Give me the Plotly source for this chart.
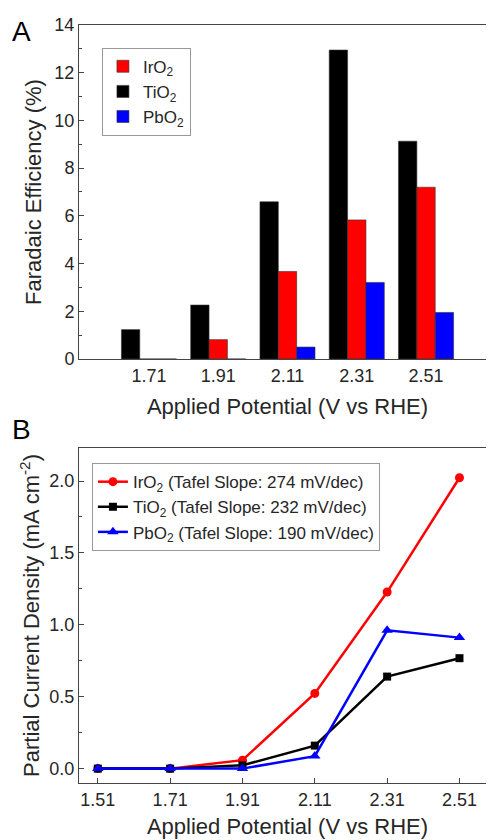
import plotly.graph_objects as go

# ---- Panel A data (Faradaic efficiency, %) ----
potentials_a = ["1.71", "1.91", "2.11", "2.31", "2.51"]
fe_tio2 = [1.23, 2.26, 6.59, 12.95, 9.13]
fe_iro2 = [0.0, 0.81, 3.67, 5.83, 7.20]
fe_pbo2 = [0.0, 0.0, 0.50, 3.21, 1.95]

# ---- Panel B data (partial current density, mA cm^-2) ----
potentials_b = [1.51, 1.71, 1.91, 2.11, 2.31, 2.51]
potential_labels_b = ["1.51", "1.71", "1.91", "2.11", "2.31", "2.51"]
j_iro2 = [0.0, 0.0, 0.059, 0.523, 1.228, 2.023]
j_tio2 = [0.0, 0.0, 0.023, 0.160, 0.640, 0.768]
j_pbo2 = [0.0, 0.0, 0.0, 0.087, 0.962, 0.911]

names_a = ["IrO<sub>2</sub>", "TiO<sub>2</sub>", "PbO<sub>2</sub>"]
names_b = ["IrO<sub>2</sub> (Tafel Slope: 274 mV/dec)",
           "TiO<sub>2</sub> (Tafel Slope: 232 mV/dec)",
           "PbO<sub>2</sub> (Tafel Slope: 190 mV/dec)"]

RED, BLACK, BLUE = "#ff0000", "#000000", "#0000ff"
FONT = "Liberation Sans, Arial, sans-serif"
TXT = "#262626"
AX = "#444444"

fig = go.Figure()

bar_line = dict(color="#333", width=0.6)
# bars: order in group TiO2, IrO2, PbO2 ; legend order IrO2, TiO2, PbO2
fig.add_trace(go.Bar(x=potentials_a, y=fe_tio2, name=names_a[1], marker=dict(color=BLACK, line=bar_line),
                     xaxis="x", yaxis="y", legend="legend", legendrank=2))
fig.add_trace(go.Bar(x=potentials_a, y=fe_iro2, name=names_a[0], marker=dict(color=RED, line=bar_line),
                     xaxis="x", yaxis="y", legend="legend", legendrank=1))
fig.add_trace(go.Bar(x=potentials_a, y=fe_pbo2, name=names_a[2], marker=dict(color=BLUE, line=bar_line),
                     xaxis="x", yaxis="y", legend="legend", legendrank=3))

fig.add_trace(go.Scatter(x=potentials_b, y=j_iro2, name=names_b[0], mode="lines+markers",
                         line=dict(color=RED, width=2.5), marker=dict(symbol="circle", size=9, color=RED),
                         xaxis="x2", yaxis="y2", legend="legend2"))
fig.add_trace(go.Scatter(x=potentials_b, y=j_tio2, name=names_b[1], mode="lines+markers",
                         line=dict(color=BLACK, width=2.5), marker=dict(symbol="square", size=8, color=BLACK),
                         xaxis="x2", yaxis="y2", legend="legend2"))
fig.add_trace(go.Scatter(x=potentials_b, y=j_pbo2, name=names_b[2], mode="lines+markers",
                         line=dict(color=BLUE, width=2.5), marker=dict(symbol="triangle-up", size=10, color=BLUE),
                         xaxis="x2", yaxis="y2", legend="legend2"))

tickfont = dict(family=FONT, size=18, color=TXT)
titlefont = dict(family=FONT, size=22, color=TXT)

dom_a = [0.5594, 1.0]
dom_b = [0.0, 0.4420]
xr_a = [-1.01, 5.01]
xr_b = [1.458, 2.611]

fig.update_layout(
    width=494, height=840,
    margin=dict(l=71, r=6, t=17, b=65),
    paper_bgcolor="white", plot_bgcolor="white",
    font=dict(family=FONT, color=TXT),
    barmode="group", bargap=0.205, bargroupgap=0,
    xaxis=dict(domain=[0, 1], anchor="y", type="category", range=xr_a, automargin=False,
               showline=True, linecolor=AX, linewidth=1, mirror=True, ticks="",
               showgrid=False, zeroline=False, tickfont=tickfont,
               title=dict(text="Applied Potential (V vs RHE)", font=titlefont, standoff=14)),
    xaxis3=dict(overlaying="x", anchor="y", side="top", range=xr_a, automargin=False,
                tickvals=[-0.5, 0.5, 1.5, 2.5, 3.5, 4.5], ticks="inside", ticklen=6,
                tickcolor=AX, showticklabels=False, showgrid=False, zeroline=False, showline=False,
                minor=dict(tickvals=[0, 1, 2, 3, 4], ticks="inside", ticklen=3, tickcolor=AX, showgrid=False)),
    yaxis=dict(domain=dom_a, anchor="x", range=[0, 14], tickvals=[0, 2, 4, 6, 8, 10, 12, 14], automargin=False,
               showline=True, linecolor=AX, linewidth=1, mirror="ticks", ticks="inside", ticklen=5,
               tickcolor=AX, showgrid=False, zeroline=False, tickfont=tickfont,
               minor=dict(dtick=1, ticks="inside", ticklen=3, tickcolor=AX, showgrid=False),
               title=dict(text="Faradaic Efficiency (%)", font=titlefont, standoff=6)),
    xaxis2=dict(domain=[0, 1], anchor="y2", range=xr_b, automargin=False,
                tickvals=potentials_b, ticktext=potential_labels_b,
                showline=True, linecolor=AX, linewidth=1, mirror=True, ticks="inside", ticklen=5,
                tickcolor=AX, showgrid=False, zeroline=False, tickfont=tickfont,
                title=dict(text="Applied Potential (V vs RHE)", font=titlefont, standoff=10)),
    xaxis4=dict(overlaying="x2", anchor="y2", side="top", range=xr_b, automargin=False,
                tickvals=[1.61, 1.81, 2.01, 2.21, 2.41, 2.61], ticks="inside", ticklen=6,
                tickcolor=AX, showticklabels=False, showgrid=False, zeroline=False, showline=False,
                minor=dict(tickvals=potentials_b, ticks="inside", ticklen=3,
                           tickcolor=AX, showgrid=False)),
    yaxis2=dict(domain=dom_b, anchor="x2", range=[-0.1, 2.23], tickvals=[0, 0.5, 1.0, 1.5, 2.0],
                ticktext=["0.0", "0.5", "1.0", "1.5", "2.0"], automargin=False,
                showline=True, linecolor=AX, linewidth=1, mirror="ticks", ticks="inside", ticklen=5,
                tickcolor=AX, showgrid=False, zeroline=False, tickfont=tickfont,
                minor=dict(dtick=0.25, ticks="inside", ticklen=3, tickcolor=AX, showgrid=False),
                title=dict(text="Partial Current Density (mA cm<sup>-2</sup>)", font=titlefont, standoff=3)),
    legend=dict(x=0.055, y=0.970, xanchor="left", yanchor="top", bgcolor="white",
                bordercolor="#999", borderwidth=1, font=dict(family=FONT, size=17, color=TXT),
                traceorder="normal"),
    legend2=dict(x=0.031, y=0.422, xanchor="left", yanchor="top", bgcolor="white",
                 bordercolor="#999", borderwidth=1, font=dict(family=FONT, size=17, color=TXT)),
    showlegend=True,
    annotations=[
        dict(text="A", xref="paper", yref="paper", x=-0.139, y=0.992, xanchor="center", yanchor="middle",
             showarrow=False, font=dict(family=FONT, size=28, color="#000")),
        dict(text="B", xref="paper", yref="paper", x=-0.139, y=0.4657, xanchor="center", yanchor="middle",
             showarrow=False, font=dict(family=FONT, size=28, color="#000")),
    ],
)

fig.write_html("out.html")
